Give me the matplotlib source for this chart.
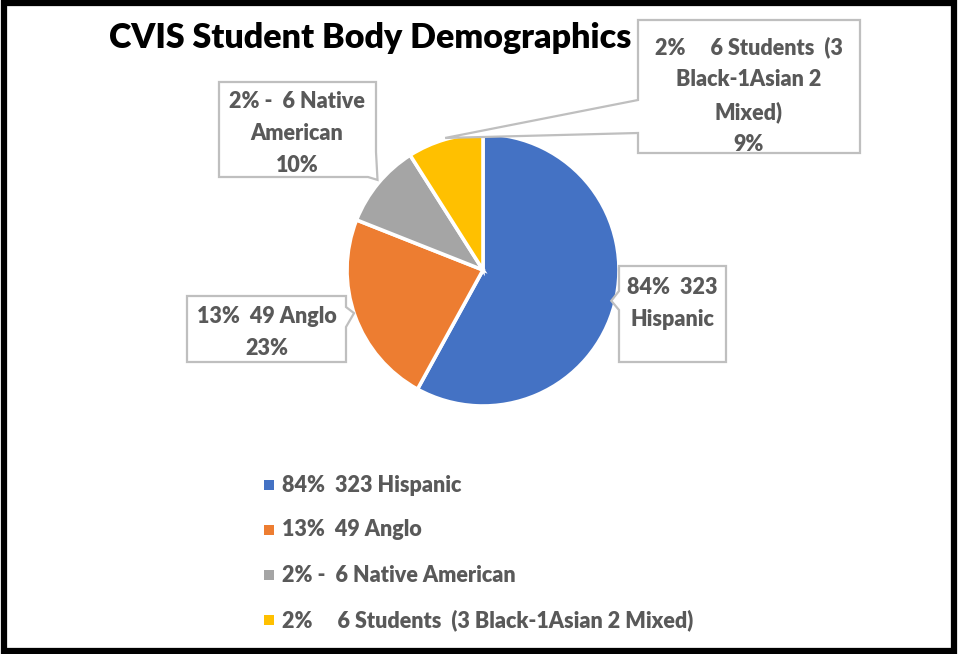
import matplotlib
matplotlib.use("Agg")
import matplotlib.pyplot as plt
from matplotlib.patches import Polygon, Rectangle
import numpy as np

plt.rcParams['font.family'] = ['Lato', 'DejaVu Sans']

# Data
categories = ["84%  323 Hispanic", "13%  49 Anglo", "2% -  6 Native American",
              "2%     6 Students  (3 Black-1Asian 2 Mixed)"]
shares = [58, 23, 10, 9]
colors = ["#4472C4", "#ED7D31", "#A5A5A5", "#FFC000"]
callout_texts = ["84%  323\nHispanic", "13%  49 Anglo\n23%",
                 "2% -  6 Native\nAmerican\n10%",
                 "2%     6 Students  (3\nBlack-1Asian 2\nMixed)\n9%"]
title = "CVIS Student Body Demographics"

W, H = 958, 654
fig = plt.figure(figsize=(W / 100, H / 100), dpi=100)

# Overlay axes in pixel coordinates (y downwards)
ov = fig.add_axes([0, 0, 1, 1], zorder=3)
ov.set_xlim(0, W)
ov.set_ylim(H, 0)
ov.axis("off")
ov.patch.set_alpha(0)

# Pie axes
cx, cy, r = 483, 270, 136
pax = fig.add_axes([(cx - r) / W, (H - cy - r) / H, 2 * r / W, 2 * r / H], zorder=1)
wedges, _ = pax.pie(shares, colors=colors, startangle=90, counterclock=False,
                    radius=1.0, wedgeprops=dict(edgecolor="white", linewidth=2.6))
pax.set_xlim(-1, 1)
pax.set_ylim(-1, 1)
pax.set_aspect("equal")
pax.axis("off")


def edge_point(angle_deg, rad=1.02):
    """Pixel position (y down) of a point on the pie rim."""
    a = np.deg2rad(angle_deg)
    return cx + rad * r * np.cos(a), cy - rad * r * np.sin(a)


text_color = "#595959"
border = "#BFBFBF"
fs = 15.5
weight = "heavy"


def callout(box, pointer, text, tx, ty):
    x0, y0, x1, y1 = box
    side, a, b, tip = pointer
    if side == "left":
        pts = [(x0, y0), (x1, y0), (x1, y1), (x0, y1), (x0, b), tip, (x0, a)]
    elif side == "right":
        pts = [(x0, y0), (x1, y0), (x1, a), tip, (x1, b), (x1, y1), (x0, y1)]
    else:  # pointer leaving the bottom-right corner
        pts = [(x0, y0), (x1, y0), (x1, a), tip, (b, y1), (x0, y1)]
    poly = Polygon(pts, closed=True, facecolor="white", edgecolor=border,
                   linewidth=1.6, zorder=2)
    ov.add_patch(poly)
    ov.text(tx, ty, text, ha="center", va="top", fontsize=fs, fontweight=weight,
            color=text_color, linespacing=1.65, zorder=3)


callout((619, 266, 726, 362), ("left", 291, 310, edge_point(-13.5, 0.97)),
        callout_texts[0], 672, 277)
callout((187, 296, 346, 362), ("right", 307, 327, edge_point(198.5, 1.0)),
        callout_texts[1], 267, 306)
callout((219, 82, 376, 177), ("corner", 152, 368, edge_point(139.5, 1.02)),
        callout_texts[2], 297, 91)
callout((638, 20, 860, 153), ("left", 100, 133, edge_point(106, 1.01)),
        callout_texts[3], 749, 36)

# Title
ov.text(370, 38, title, ha="center", va="center", fontsize=24.5,
        fontweight="heavy", color="black", zorder=4)

# Legend
leg_x, leg_y0, leg_dy = 269, 485, 45
for i, (lab, col) in enumerate(zip(categories, colors)):
    y = leg_y0 + i * leg_dy
    ov.add_patch(Rectangle((leg_x - 5, y - 5), 10, 10, facecolor=col,
                           edgecolor="none", zorder=3))
    ov.text(leg_x + 13, y, lab, ha="left", va="center", fontsize=fs,
            fontweight=weight, color=text_color, zorder=3)

# Outer frame
ov.add_patch(Rectangle((4, 3), W - 8, H - 6, facecolor="none",
                       edgecolor="black", linewidth=4.5, zorder=5))

fig.savefig("out.png", dpi=100)
